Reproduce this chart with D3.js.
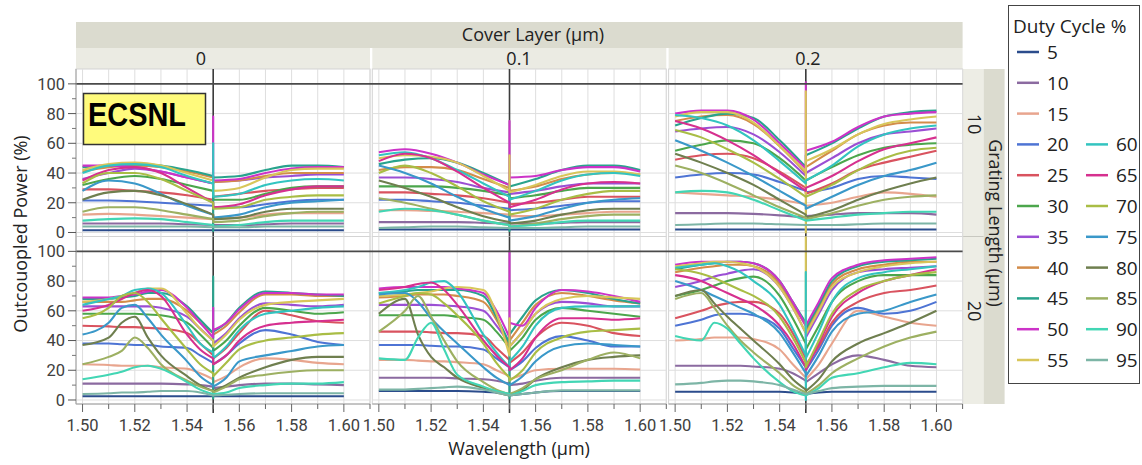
<!DOCTYPE html>
<html>
<head>
<meta charset="utf-8">
<script src="https://cdn.jsdelivr.net/npm/d3@7"></script>
<style>
  body { margin: 0; background: #fff; }
  text { font-family: "Open Sans", "Noto Sans", sans-serif; }
  text.tick { font-family: Roboto, "Liberation Sans", sans-serif; }
</style>
</head>
<body>
<svg id="chart" width="1142" height="465"></svg>
<script>
// ---- categories / tick labels ----
const dutyCycles = [5, 10, 15, 20, 25, 30, 35, 40, 45, 50, 55, 60, 65, 70, 75, 80, 85, 90, 95];
const dutyColors = ["#2b4c8c", "#8b6aa0", "#e8a58e", "#4e74d4", "#d9535f", "#4ca64c", "#9b4fd4",
  "#d38c4a", "#29a38d", "#cc33c8", "#d8c65a", "#33c4c0", "#d6308f", "#a9bd45", "#3a98c9",
  "#6f7f4f", "#9db062", "#42d6b4", "#7db5a6"];
const coverLayers = ["0", "0.1", "0.2"];
const gratingLengths = ["10", "20"];
const xTickValues = [1.50, 1.51, 1.52, 1.53, 1.54, 1.55, 1.56, 1.57, 1.58, 1.59, 1.60, 1.61];
const yTickValues = [0, 20, 40, 60, 80, 100];

// wavelength sampling: left branch ends just below 1.55 µm, right branch starts just above
const waveLeft10 = [1.50, 1.51, 1.52, 1.53, 1.54, 1.55];
const waveRight10 = [1.55, 1.56, 1.57, 1.58, 1.59, 1.60];
const waveLeft20 = [1.50, 1.51, 1.515, 1.52, 1.525, 1.53, 1.54, 1.545, 1.55];
const waveRight20 = [1.55, 1.555, 1.56, 1.57, 1.58, 1.59, 1.60];

// ---- outcoupled power (%), one row per duty cycle ----
// cover 0 µm, grating 10 µm
const power_c0_g10 = [
  [1.5,1.5,1.5,1.5,1.5,1.5, 1.5,1.5,1.5,1.5,1.5,1.5],
  [6,6,6,6,5.5,5, 5,5,5.5,6,6,6],
  [12,12.5,12,11,10,9, 9,10,12,13,13,13],
  [21.5,21.5,21,20,19,18, 17,17,19,21,22,22],
  [29,29,28,27,25,22, 24,26,28,29,30,30],
  [32,36,38,36,32,28, 22,22,26,30,31,31],
  [36,40,43,41,37,33, 34,35,37,38,39,39],
  [41,44,45,44,41,37, 34,35,38,40,40,40],
  [44,45,46,45,42,38, 37,38,42,45,45,44],
  [45,45,44,41,37,33, 35,36,40,43,44,44],
  [42,46,47,45,40,35, 28,30,37,42,43,43],
  [40,45,46,44,38,33, 24,26,32,35,36,35],
  [35,42,44,40,30,20, 17,19,25,29,31,31],
  [33,40,40,36,28,20, 16,17,22,24,25,25],
  [28,35,33,26,18,12, 10,12,17,20,21,22],
  [22,27,28,25,19,12, 9,10,14,16,16,16],
  [14,17,17,15,12,9, 7,8,11,13,14,14],
  [8,9,9.5,9,7,5, 4,5,7,8,8,8],
  [4,4,4,4,4,3.5, 3.5,3.5,4,4,4,4]
];
// cover 0.1 µm, grating 10 µm
const power_c1_g10 = [
  [2,2,2,2,2,2, 2,2,2,2,2,2],
  [7,7,7,7,6.5,6, 6,6,6.5,7,7,7],
  [15,15,14.5,14,13,12, 11,11,12,13,14,14],
  [22,22,21,20,18,16, 15,16,18,20,21,21],
  [27,27,26,25,23,20, 19,20,22,24,24,24],
  [31,31,31,30,28,25, 23,25,28,30,30,30],
  [37,37,36,34,30,27, 26,28,31,33,33,33],
  [42,44,44,42,36,30, 28,31,36,39,40,39],
  [46,49,50,47,40,32, 31,36,42,45,45,42],
  [54,56,53,47,39,32, 37,38,42,44,44,41],
  [50,52,51,47,38,28, 27,32,38,41,41,39],
  [52,54,50,42,33,24, 22,28,35,39,40,38],
  [48,53,50,41,30,20, 17,22,29,33,34,33],
  [40,45,40,31,21,14, 12,16,22,26,28,28],
  [45,40,33,24,16,10, 8,11,16,20,22,23],
  [35,30,24,17,11,7, 6,8,12,15,16,16],
  [23,20,16,12,8,5, 4,6,9,11,12,12],
  [14,16,15,12,8,5, 4,5,7,8,8,8],
  [3,3.5,4,4,3.5,3, 3,3,3.5,4,4,4]
];
// cover 0.2 µm, grating 10 µm
const power_c2_g10 = [
  [2,2,2,2,2,2, 2,2,2,2,2,2],
  [13,13,13,12.5,11.5,10, 11,12,13,13,13,12],
  [27,26,25,24,22,19, 18,20,24,27,26,24],
  [37,39,40,39,34,28, 27,30,36,38,37,36],
  [49,52,53,50,41,30, 26,33,42,47,51,55],
  [55,59,62,60,50,35, 35,44,52,57,59,60],
  [68,70,71,66,54,38, 40,50,60,66,68,70],
  [75,78,79,73,58,40, 44,55,66,72,74,74],
  [72,77,80,77,62,44, 52,60,70,78,81,82],
  [80,82,82,76,60,43, 55,61,71,78,80,81],
  [78,81,81,74,58,41, 48,56,66,73,76,78],
  [79,77,72,62,48,33, 35,45,58,66,70,72],
  [75,70,62,52,40,28, 30,38,48,56,60,64],
  [69,64,56,47,36,24, 24,32,42,50,55,57],
  [62,55,47,38,28,18, 16,24,32,38,42,47],
  [53,47,40,32,22,12, 10,15,22,28,33,37],
  [45,40,33,25,17,10, 9,13,18,22,24,25],
  [27,28,27,22,15,8, 8,10,12,13,14,14],
  [5,5.5,6,6,5.5,5, 5,5,5.5,6,6,6]
];
// cover 0 µm, grating 20 µm
const power_c0_g20 = [
  [2.5,2.5,2.5,2.5,2.5,2.5,2.5,2.5,2.5, 2.5,2.5,2.5,2.5,2.5,2.5,2.5],
  [11,11,11,11,11,11,10.5,10,9, 8,9,10,11,11,10.5,10],
  [24,23.5,23,23,23,22,21,18,14, 12,16,22,28,27,25,24],
  [38,38,37.5,37,37,36,35,30,25, 24,30,38,47,44,39,37],
  [50,49.5,49,49,48.5,48,45,38,30, 28,35,45,60,57,53,52],
  [58,58,58,58,57.5,57,52,44,35, 33,40,50,62,60,58,59],
  [63,63,63,63,63,62,56,48,40, 38,45,55,65,64,63,64],
  [66,66,66,67,68,68,60,52,45, 44,50,59,71,71,70,70],
  [68,68,69,70,72,72,63,54,45, 46,52,62,73,72,71,70],
  [69,69,70,71,73,74,62,52,42, 47,52,61,72,72,71,71],
  [66,68,70,72,75,75,58,48,40, 36,44,54,64,66,67,68],
  [64,68,70,74,75,72,50,38,32, 28,36,47,58,60,62,63],
  [60,64,68,72,74,70,44,34,28, 24,30,40,50,52,53,54],
  [55,62,70,72,66,55,34,24,18, 16,25,34,40,42,44,45],
  [44,52,62,64,55,44,26,16,10, 9,15,26,30,33,36,37],
  [37,42,52,56,42,30,16,10,6, 6,10,15,22,27,29,29],
  [24,29,33,42,35,24,13,9,6, 5,9,14,17,19,20,20],
  [14,17,19,22,23,21,12,7,4, 4,5,8,10,11,11,12],
  [4,4.5,5,5,5.5,6,6,5,3, 3,3.5,4,4.5,4.5,4.5,4.5]
];
// cover 0.1 µm, grating 20 µm
const power_c1_g20 = [
  [6,6,6,6,6,6,5.5,5,4, 3,4,5,6,6,6,6],
  [15,15,15,15,15,14.5,14,13,11, 10,11,13,15,15,15,15],
  [27,27,26.5,26,26,25.5,24,20,16, 14,17,20,21,21,21,20.5],
  [37,37,37,36.5,36,36,34,28,22, 20,26,35,43,40,36,36],
  [46,46,46,45.5,45,45,43,35,27, 25,32,42,52,50,45,43],
  [57,57,57,57,57,56,54,46,35, 33,42,54,62,60,58,56],
  [64,64,64,64,63.5,63,60,50,38, 36,46,58,66,65,63,63],
  [69,70,71,71,71,70,66,54,36, 40,52,64,72,70,67,65],
  [72,73,74,74,74,74,70,56,38, 44,56,67,74,72,68,65],
  [75,76,76,76,76,75,72,60,42, 52,50,62,74,73,70,66],
  [70,71,72,73,75,76,74,58,30, 36,46,58,68,70,69,68],
  [72,74,76,79,80,73,44,32,22, 26,36,50,62,63,63,63],
  [74,76,78,79,74,64,40,30,22, 20,28,42,55,55,54,55],
  [65,70,72,71,65,57,38,25,15, 13,20,32,42,46,47,48],
  [71,72,66,55,46,38,22,15,10, 10,16,26,36,38,37,36],
  [58,68,44,29,22,15,8,5,3, 3,7,14,22,27,29,30],
  [46,60,70,56,40,26,12,7,4, 4,8,14,20,27,32,28],
  [28,27,42,52,34,17,9,6,4, 3,6,10,12,12.5,13,13],
  [7,7,7.5,8,8.5,9,7,5,3, 3,4,5,6.5,6.5,6.5,6.5]
];
// cover 0.2 µm, grating 20 µm
const power_c2_g20 = [
  [5.5,5.5,5.5,5.5,5.5,5.5,5.5,5,4, 4,5,5.5,5.5,5.5,5.5,5.5],
  [23,23,23,23,23,22.5,21,18,13, 12,18,24,30,27,23,22],
  [40,41,42,42,42,41,34,24,15, 14,24,38,60,56,52,50],
  [50,54,57,58,58,57,48,35,22, 20,34,50,62,58,60,66],
  [55,60,63,65,66,66,58,45,28, 24,36,52,66,72,74,77],
  [70,74,77,80,82,83,70,55,38, 34,50,66,80,84,84,84],
  [76,80,83,85,87,88,76,62,45, 42,58,74,86,88,89,90],
  [86,89,90,91,91,90,78,64,50, 46,62,78,88,91,93,93],
  [88,91,92,93,93,92,80,66,52, 48,64,80,90,93,94,95],
  [91,93,93,93,93,92,80,66,50, 50,66,82,91,94,95,96],
  [90,92,93,93,92,90,76,62,45, 44,60,76,86,90,92,93],
  [89,91,92,90,86,80,64,48,30, 28,46,66,82,86,88,90],
  [84,80,76,72,68,64,50,38,22, 20,38,56,72,80,84,88],
  [88,85,82,78,74,70,56,42,25, 22,40,58,74,80,84,86],
  [80,74,70,66,62,58,45,32,18, 16,30,46,58,60,66,71],
  [70,74,65,56,48,40,24,14,7, 6,14,26,38,45,52,60],
  [68,72,62,50,40,32,18,10,5, 4,10,18,28,36,42,46],
  [43,40,52,48,38,28,12,6,3, 3,8,15,18,22,25,24],
  [10.5,11.5,12.5,13,13,12.5,10,7,4, 4,6,8,9,9.5,9.5,9.5]
];

// resonance spikes at 1.55 µm: [duty cycle, spike values...]
const spike_c0_g10 = [[45, 1], [50, 78], [60, 60]];
const spike_c1_g10 = [[45, 1], [50, 75], [55, 52]];
const spike_c2_g10 = [[50, 101], [55, 95, 0]];
const spike_c0_g20 = [[45, 83, 1], [50, 62]];
const spike_c1_g20 = [[45, 1], [50, 100], [55, 55]];
const spike_c2_g20 = [[55, 110], [60, 86, 0]];

// ---- layout ----
const svg = d3.select("#chart");
const panelLeft = 76, panelWidth = 294, panelStep = 296.3;
const rowTop = 69, rowHeight = 167.5;
const stripRight = panelLeft + 2 * panelStep + panelWidth;   // right edge of last column

const panels = [
  { col: 0, row: 0, data: power_c0_g10, spikes: spike_c0_g10 },
  { col: 1, row: 0, data: power_c1_g10, spikes: spike_c1_g10 },
  { col: 2, row: 0, data: power_c2_g10, spikes: spike_c2_g10 },
  { col: 0, row: 1, data: power_c0_g20, spikes: spike_c0_g20 },
  { col: 1, row: 1, data: power_c1_g20, spikes: spike_c1_g20 },
  { col: 2, row: 1, data: power_c2_g20, spikes: spike_c2_g20 }
];

const xScaleFor = col => d3.scaleLinear().domain([1.4975, 1.61])
  .range([panelLeft + col * panelStep, panelLeft + col * panelStep + panelWidth]);
const yScaleFor = row => d3.scaleLinear().domain([-2.7, 110])
  .range([rowTop + (row + 1) * rowHeight, rowTop + row * rowHeight]);

const defs = svg.append("defs");

// ---- header strips ----
svg.append("rect").attr("x", panelLeft).attr("y", 22).attr("width", stripRight - panelLeft).attr("height", 26)
  .attr("fill", "#dbdbcf");
svg.append("text").attr("x", 533).attr("y", 41).attr("text-anchor", "middle")
  .attr("font-size", 18).attr("fill", "#222").text("Cover Layer (µm)");
const coverLabelX = [201, 519, 808];
coverLayers.forEach((c, i) => {
  const x = xScaleFor(i);
  svg.append("rect").attr("x", x.range()[0]).attr("y", 48).attr("width", panelWidth).attr("height", 21)
    .attr("fill", "#ebebe3");
  svg.append("text").attr("x", coverLabelX[i]).attr("y", 65).attr("text-anchor", "middle")
    .attr("font-size", 18).attr("fill", "#222").text(c);
});

// ---- right strips ----
svg.append("rect").attr("x", stripRight).attr("y", rowTop).attr("width", 21).attr("height", 2 * rowHeight)
  .attr("fill", "#ededE5");
svg.append("rect").attr("x", stripRight + 21).attr("y", rowTop).attr("width", 21).attr("height", 2 * rowHeight)
  .attr("fill", "#dbdbcf");
svg.append("line").attr("x1", stripRight).attr("x2", stripRight + 21)
  .attr("y1", rowTop + rowHeight).attr("y2", rowTop + rowHeight).attr("stroke", "#c8c8c0");
const lengthLabelY = [124, 311];
gratingLengths.forEach((g, i) => {
  svg.append("text").attr("transform", `translate(${stripRight + 5},${lengthLabelY[i]}) rotate(90)`)
    .attr("text-anchor", "middle").attr("font-size", 18).attr("fill", "#222").text(g);
});
svg.append("text").attr("transform", `translate(${stripRight + 26},223) rotate(90)`)
  .attr("text-anchor", "middle").attr("font-size", 18).attr("fill", "#222").text("Grating Length (µm)");

// ---- panels ----
const line = d3.line().curve(d3.curveMonotoneX);

panels.forEach((p, pi) => {
  const x = xScaleFor(p.col), y = yScaleFor(p.row);
  const [x0, x1] = x.range();
  const [yb, yt] = y.range();
  const g = svg.append("g");

  g.append("rect").attr("x", x0).attr("y", yt).attr("width", x1 - x0).attr("height", yb - yt)
    .attr("fill", "#fff").attr("stroke", "#d4d4d4");

  // grid
  g.selectAll(".vg").data(xTickValues).join("line")
    .attr("x1", d => x(d)).attr("x2", d => x(d)).attr("y1", yt).attr("y2", yb)
    .attr("stroke", "#dedede").attr("stroke-width", 1);
  g.selectAll(".hg").data(yTickValues.filter(v => v < 100)).join("line")
    .attr("x1", x0).attr("x2", x1).attr("y1", d => y(d)).attr("y2", d => y(d))
    .attr("stroke", "#dedede").attr("stroke-width", 1);

  // reference line at 1.55 µm
  g.append("line").attr("x1", x(1.55)).attr("x2", x(1.55)).attr("y1", yt)
    .attr("y2", p.row === 1 ? yb + 9 : yb)
    .attr("stroke", "#3c3c3c").attr("stroke-width", 1.6);

  // curves
  const clipId = "clip" + pi;
  defs.append("clipPath").attr("id", clipId).append("rect")
    .attr("x", x0).attr("y", yt).attr("width", x1 - x0).attr("height", yb - yt);
  const waveL = p.row === 0 ? waveLeft10 : waveLeft20;
  const waveR = p.row === 0 ? waveRight10 : waveRight20;
  const spikeMap = new Map(p.spikes.map(s => [s[0], s.slice(1)]));

  const curves = g.append("g").attr("clip-path", `url(#${clipId})`);
  p.data.forEach((vals, si) => {
    const nL = waveL.length;
    const left = waveL.map((w, i) => [x(w), y(vals[i])]);
    const right = waveR.map((w, i) => [x(w), y(vals[nL + i])]);
    let d = line(left);
    (spikeMap.get(dutyCycles[si]) || []).forEach(v => { d += `L${x(1.55)},${y(v)}`; });
    d += line(right).replace(/^M/, "L");
    curves.append("path").attr("d", d).attr("fill", "none")
      .attr("stroke", dutyColors[si]).attr("stroke-width", 2.1)
      .attr("stroke-linejoin", "round");
  });
});

// 100 % reference lines across each row
[0, 1].forEach(row => {
  const y = yScaleFor(row);
  svg.append("line").attr("x1", panelLeft).attr("x2", stripRight)
    .attr("y1", y(100)).attr("y2", y(100)).attr("stroke", "#4a4a4a").attr("stroke-width", 1.6);
});

// ---- y axes ----
[0, 1].forEach(row => {
  const y = yScaleFor(row);
  const ax = svg.append("g");
  ax.append("line").attr("x1", panelLeft).attr("x2", panelLeft)
    .attr("y1", y.range()[1]).attr("y2", y.range()[0]).attr("stroke", "#a0a0a0");
  ax.selectAll(".mt").data(d3.range(10, 100, 20)).join("line")
    .attr("x1", panelLeft - 4).attr("x2", panelLeft).attr("y1", d => y(d)).attr("y2", d => y(d))
    .attr("stroke", "#777");
  ax.selectAll(".Mt").data(yTickValues).join("line")
    .attr("x1", panelLeft - 8).attr("x2", panelLeft).attr("y1", d => y(d)).attr("y2", d => y(d))
    .attr("stroke", "#555");
  ax.selectAll("text").data(yTickValues).join("text").attr("class", "tick")
    .attr("x", panelLeft - 11).attr("y", d => y(d)).attr("dy", "0.36em").attr("text-anchor", "end")
    .attr("font-size", 16.5).attr("fill", "#404040").text(d => d);
});

// ---- x axes ----
const axisY = rowTop + 2 * rowHeight;
coverLayers.forEach((c, col) => {
  const x = xScaleFor(col);
  const ax = svg.append("g");
  ax.append("line").attr("x1", x.range()[0]).attr("x2", x.range()[1])
    .attr("y1", axisY).attr("y2", axisY).attr("stroke", "#a0a0a0");
  ax.selectAll("line.t").data(xTickValues).join("line").attr("class", "t")
    .attr("x1", d => x(d)).attr("x2", d => x(d)).attr("y1", axisY)
    .attr("y2", d => axisY + (Math.round(d * 100) % 2 === 0 ? 8 : 5))
    .attr("stroke", "#666");
  ax.selectAll("text").data(xTickValues.filter(d => Math.round(d * 100) % 2 === 0 && d <= 1.6)).join("text")
    .attr("class", "tick")
    .attr("x", d => x(d)).attr("y", axisY + 27).attr("text-anchor", "middle")
    .attr("font-size", 16.5).attr("fill", "#404040").text(d => d.toFixed(2));
});

// ---- axis titles ----
svg.append("text").attr("x", 519).attr("y", 455).attr("text-anchor", "middle")
  .attr("font-size", 18).attr("fill", "#222").text("Wavelength (µm)");
svg.append("text").attr("transform", "translate(27,234) rotate(-90)").attr("text-anchor", "middle")
  .attr("font-size", 18).attr("fill", "#222").text("Outcouopled Power (%)");

// ---- ECSNL tag ----
svg.append("rect").attr("x", 83.5).attr("y", 93.5).attr("width", 122).attr("height", 51)
  .attr("fill", "#fffb7c").attr("stroke", "#333").attr("stroke-width", 1.5);
svg.append("text").attr("x", 88).attr("y", 126).attr("font-size", 34).attr("font-weight", "bold")
  .attr("textLength", 98).attr("lengthAdjust", "spacingAndGlyphs")
  .style("font-family", "'Liberation Sans', Arial, sans-serif").attr("fill", "#000").text("ECSNL");

// ---- legend ----
const legend = svg.append("g");
legend.append("rect").attr("x", 1008.5).attr("y", 5.5).attr("width", 131).attr("height", 378)
  .attr("fill", "#fff").attr("stroke", "#444");
legend.append("text").attr("x", 1013).attr("y", 33).attr("font-size", 19).attr("fill", "#222")
  .text("Duty Cycle %");
dutyCycles.forEach((dc, i) => {
  const colIdx = i < 11 ? 0 : 1;
  const rowIdx = i < 11 ? i : i - 8;
  const cy = 52 + rowIdx * 30.8;
  const lx = colIdx === 0 ? 1017 : 1086;
  legend.append("line").attr("x1", lx).attr("x2", lx + 22).attr("y1", cy).attr("y2", cy)
    .attr("stroke", dutyColors[i]).attr("stroke-width", 2.5);
  legend.append("text").attr("x", lx + 30).attr("y", cy + 7).attr("font-size", 19).attr("fill", "#222")
    .text(dc);
});
</script>
</body>
</html>
